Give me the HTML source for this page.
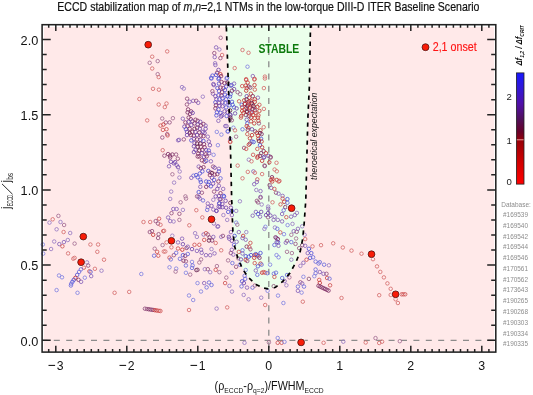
<!DOCTYPE html>
<html><head><meta charset="utf-8"><style>html,body{margin:0;padding:0;background:#fff;}svg{display:block;will-change:transform;}</style></head>
<body><svg width="533" height="395" viewBox="0 0 533 395">
<rect x="43.9" y="26.9" width="450.3" height="324.20000000000005" fill="#ffe9e9"/>
<polygon points="226.3,26.9 228.9,100 230.5,150 231.7,200 232.2,214.6 232.9,231.6 234.6,246.2 237.8,258.3 242.7,269.3 248.7,277.8 256,284.6 263.3,288 269.4,289.1 275.5,287.3 282.8,281.4 290,272.9 296.1,262 300.3,251 302.7,238.9 304.1,224.3 305.1,209.7 305.8,200 307.8,120 309.4,85 310.5,26.9" fill="#ebffeb"/>
<line x1="42.1" y1="340.3" x2="495.8" y2="340.3" stroke="#8c8c8c" stroke-width="1.3" stroke-dasharray="6 6.4" stroke-dashoffset="0.7"/>
<line x1="268.8" y1="24.7" x2="268.8" y2="352.1" stroke="#8c8c8c" stroke-width="1.3" stroke-dasharray="6 6.2"/>
<g fill="#fff" fill-opacity="0.2" stroke-width="0.9" stroke-opacity="0.9"><circle cx="167.2" cy="51.4" r="1.75" stroke="#d46767"/><circle cx="152.2" cy="56.7" r="1.75" stroke="#d46767"/><circle cx="157.7" cy="61.1" r="1.75" stroke="#a0658d"/><circle cx="149.7" cy="62.8" r="1.75" stroke="#a0658d"/><circle cx="152.2" cy="68.5" r="1.75" stroke="#d46767"/><circle cx="157.7" cy="74.2" r="1.75" stroke="#a0658d"/><circle cx="158.7" cy="77.1" r="1.75" stroke="#d46767"/><circle cx="220.7" cy="37.8" r="1.75" stroke="#a0658d"/><circle cx="216.1" cy="47.4" r="1.75" stroke="#825cb6"/><circle cx="219.4" cy="49.5" r="1.75" stroke="#9575c1"/><circle cx="214.3" cy="53.1" r="1.75" stroke="#8f4979"/><circle cx="222.1" cy="55.0" r="1.75" stroke="#d46767"/><circle cx="214.7" cy="57.1" r="1.75" stroke="#825cb6"/><circle cx="220.4" cy="58.1" r="1.75" stroke="#8f4979"/><circle cx="215.1" cy="63.2" r="1.75" stroke="#9575c1"/><circle cx="215.4" cy="65.0" r="1.75" stroke="#825cb6"/><circle cx="218.5" cy="69.9" r="1.75" stroke="#6c40aa"/><circle cx="217.1" cy="72.8" r="1.75" stroke="#7c2a62"/><circle cx="220.4" cy="74.2" r="1.75" stroke="#c42c2c"/><circle cx="212.5" cy="75.6" r="1.75" stroke="#4c4cd4"/><circle cx="216.1" cy="74.9" r="1.75" stroke="#4c4cd4"/><circle cx="211.1" cy="77.8" r="1.75" stroke="#6666da"/><circle cx="219.0" cy="78.1" r="1.75" stroke="#4c4cd4"/><circle cx="221.1" cy="76.1" r="1.75" stroke="#7c2a62"/><circle cx="227.1" cy="77.8" r="1.75" stroke="#6666da"/><circle cx="242.5" cy="50.0" r="1.75" stroke="#d46767"/><circle cx="248.5" cy="52.8" r="1.75" stroke="#d46767"/><circle cx="234.7" cy="68.1" r="1.75" stroke="#d46767"/><circle cx="247.5" cy="66.7" r="1.75" stroke="#7e7ee0"/><circle cx="252.8" cy="76.1" r="1.75" stroke="#825cb6"/><circle cx="246.1" cy="79.2" r="1.75" stroke="#cc4b4b"/><circle cx="254.6" cy="78.9" r="1.75" stroke="#cc4b4b"/><circle cx="264.9" cy="76.6" r="1.75" stroke="#d46767"/><circle cx="153.0" cy="88.8" r="1.75" stroke="#d46767"/><circle cx="158.9" cy="89.7" r="1.75" stroke="#d46767"/><circle cx="139.4" cy="99.0" r="1.75" stroke="#d46767"/><circle cx="158.7" cy="104.5" r="1.75" stroke="#d46767"/><circle cx="166.5" cy="103.5" r="1.75" stroke="#d46767"/><circle cx="164.8" cy="107.1" r="1.75" stroke="#d46767"/><circle cx="147.2" cy="120.4" r="1.75" stroke="#d46767"/><circle cx="162.2" cy="118.5" r="1.75" stroke="#a0658d"/><circle cx="172.9" cy="118.2" r="1.75" stroke="#a0658d"/><circle cx="169.6" cy="122.4" r="1.75" stroke="#8f4979"/><circle cx="165.8" cy="122.5" r="1.75" stroke="#8f4979"/><circle cx="163.4" cy="124.5" r="1.75" stroke="#c42c2c"/><circle cx="160.5" cy="125.6" r="1.75" stroke="#cc4b4b"/><circle cx="166.5" cy="129.2" r="1.75" stroke="#cc4b4b"/><circle cx="162.9" cy="129.9" r="1.75" stroke="#cc4b4b"/><circle cx="167.2" cy="134.2" r="1.75" stroke="#8f4979"/><circle cx="182.0" cy="87.1" r="1.75" stroke="#9575c1"/><circle cx="183.8" cy="88.6" r="1.75" stroke="#9575c1"/><circle cx="187.1" cy="98.7" r="1.75" stroke="#8f4979"/><circle cx="189.6" cy="101.8" r="1.75" stroke="#825cb6"/><circle cx="193.2" cy="100.8" r="1.75" stroke="#825cb6"/><circle cx="196.2" cy="100.8" r="1.75" stroke="#8f4979"/><circle cx="198.2" cy="102.8" r="1.75" stroke="#825cb6"/><circle cx="202.8" cy="96.7" r="1.75" stroke="#9575c1"/><circle cx="186.9" cy="104.5" r="1.75" stroke="#8f4979"/><circle cx="188.1" cy="109.4" r="1.75" stroke="#7c2a62"/><circle cx="191.1" cy="111.4" r="1.75" stroke="#7c2a62"/><circle cx="187.6" cy="112.4" r="1.75" stroke="#7c2a62"/><circle cx="190.1" cy="113.9" r="1.75" stroke="#7c2a62"/><circle cx="192.7" cy="112.9" r="1.75" stroke="#6c40aa"/><circle cx="211.4" cy="78.5" r="1.75" stroke="#4c4cd4"/><circle cx="218.5" cy="79.0" r="1.75" stroke="#4c4cd4"/><circle cx="226.6" cy="78.5" r="1.75" stroke="#6666da"/><circle cx="213.9" cy="85.1" r="1.75" stroke="#825cb6"/><circle cx="219.0" cy="83.6" r="1.75" stroke="#4c4cd4"/><circle cx="221.5" cy="82.0" r="1.75" stroke="#7c2a62"/><circle cx="224.5" cy="83.1" r="1.75" stroke="#7c2a62"/><circle cx="227.6" cy="82.6" r="1.75" stroke="#5c1242"/><circle cx="217.4" cy="88.1" r="1.75" stroke="#4c4cd4"/><circle cx="220.5" cy="87.6" r="1.75" stroke="#7c2a62"/><circle cx="223.5" cy="88.1" r="1.75" stroke="#7c2a62"/><circle cx="226.1" cy="86.6" r="1.75" stroke="#4c4cd4"/><circle cx="230.6" cy="85.6" r="1.75" stroke="#6c40aa"/><circle cx="219.0" cy="91.2" r="1.75" stroke="#4c4cd4"/><circle cx="222.0" cy="92.2" r="1.75" stroke="#7c2a62"/><circle cx="225.0" cy="90.1" r="1.75" stroke="#4c4cd4"/><circle cx="212.9" cy="93.7" r="1.75" stroke="#825cb6"/><circle cx="215.4" cy="96.2" r="1.75" stroke="#6c40aa"/><circle cx="218.5" cy="95.2" r="1.75" stroke="#4c4cd4"/><circle cx="221.5" cy="95.7" r="1.75" stroke="#7c2a62"/><circle cx="225.0" cy="94.7" r="1.75" stroke="#4c4cd4"/><circle cx="227.6" cy="96.2" r="1.75" stroke="#4c4cd4"/><circle cx="230.6" cy="94.2" r="1.75" stroke="#4c4cd4"/><circle cx="216.4" cy="99.3" r="1.75" stroke="#6c40aa"/><circle cx="219.5" cy="99.3" r="1.75" stroke="#4c4cd4"/><circle cx="222.5" cy="98.2" r="1.75" stroke="#4c4cd4"/><circle cx="226.1" cy="99.3" r="1.75" stroke="#4c4cd4"/><circle cx="215.4" cy="102.3" r="1.75" stroke="#4c4cd4"/><circle cx="219.0" cy="102.8" r="1.75" stroke="#6c40aa"/><circle cx="222.5" cy="102.3" r="1.75" stroke="#6c40aa"/><circle cx="225.5" cy="102.8" r="1.75" stroke="#4c4cd4"/><circle cx="228.6" cy="102.3" r="1.75" stroke="#6c40aa"/><circle cx="215.9" cy="105.3" r="1.75" stroke="#7c2a62"/><circle cx="219.5" cy="105.8" r="1.75" stroke="#6c40aa"/><circle cx="222.5" cy="106.3" r="1.75" stroke="#6c40aa"/><circle cx="226.1" cy="107.4" r="1.75" stroke="#4c4cd4"/><circle cx="229.6" cy="105.3" r="1.75" stroke="#4c4cd4"/><circle cx="215.4" cy="108.4" r="1.75" stroke="#7c2a62"/><circle cx="218.5" cy="109.4" r="1.75" stroke="#4c4cd4"/><circle cx="216.9" cy="112.4" r="1.75" stroke="#4c4cd4"/><circle cx="220.5" cy="112.9" r="1.75" stroke="#4c4cd4"/><circle cx="224.5" cy="111.4" r="1.75" stroke="#6c40aa"/><circle cx="227.6" cy="112.4" r="1.75" stroke="#6c40aa"/><circle cx="230.1" cy="110.4" r="1.75" stroke="#5c1242"/><circle cx="216.4" cy="115.4" r="1.75" stroke="#4c4cd4"/><circle cx="222.0" cy="115.4" r="1.75" stroke="#6c40aa"/><circle cx="226.6" cy="116.0" r="1.75" stroke="#4c4cd4"/><circle cx="230.6" cy="115.4" r="1.75" stroke="#6c40aa"/><circle cx="212.4" cy="91.2" r="1.75" stroke="#8f4979"/><circle cx="213.4" cy="84.1" r="1.75" stroke="#6c40aa"/><circle cx="246.2" cy="80.0" r="1.75" stroke="#cc4b4b"/><circle cx="254.3" cy="79.5" r="1.75" stroke="#cc4b4b"/><circle cx="264.9" cy="78.5" r="1.75" stroke="#d46767"/><circle cx="247.7" cy="82.6" r="1.75" stroke="#c42c2c"/><circle cx="242.2" cy="86.1" r="1.75" stroke="#cc4b4b"/><circle cx="245.7" cy="85.6" r="1.75" stroke="#c42c2c"/><circle cx="248.7" cy="86.6" r="1.75" stroke="#7c2a62"/><circle cx="250.3" cy="87.6" r="1.75" stroke="#7c2a62"/><circle cx="254.5" cy="85.1" r="1.75" stroke="#c42c2c"/><circle cx="246.7" cy="88.1" r="1.75" stroke="#c42c2c"/><circle cx="254.8" cy="89.6" r="1.75" stroke="#cc4b4b"/><circle cx="263.9" cy="88.1" r="1.75" stroke="#d46767"/><circle cx="246.2" cy="90.7" r="1.75" stroke="#c42c2c"/><circle cx="234.1" cy="83.6" r="1.75" stroke="#825cb6"/><circle cx="231.5" cy="85.1" r="1.75" stroke="#4c4cd4"/><circle cx="234.1" cy="89.1" r="1.75" stroke="#6c40aa"/><circle cx="232.0" cy="90.7" r="1.75" stroke="#7c2a62"/><circle cx="237.6" cy="92.2" r="1.75" stroke="#8f4979"/><circle cx="240.1" cy="94.2" r="1.75" stroke="#a0658d"/><circle cx="230.0" cy="96.7" r="1.75" stroke="#4c4cd4"/><circle cx="246.7" cy="96.2" r="1.75" stroke="#6c40aa"/><circle cx="250.8" cy="93.7" r="1.75" stroke="#c42c2c"/><circle cx="252.8" cy="96.2" r="1.75" stroke="#7c2a62"/><circle cx="257.9" cy="97.7" r="1.75" stroke="#825cb6"/><circle cx="249.3" cy="97.7" r="1.75" stroke="#c42c2c"/><circle cx="254.8" cy="99.3" r="1.75" stroke="#c42c2c"/><circle cx="239.1" cy="101.3" r="1.75" stroke="#cc4b4b"/><circle cx="244.2" cy="100.3" r="1.75" stroke="#c42c2c"/><circle cx="247.7" cy="102.3" r="1.75" stroke="#7c2a62"/><circle cx="250.8" cy="100.8" r="1.75" stroke="#c42c2c"/><circle cx="254.8" cy="101.8" r="1.75" stroke="#c42c2c"/><circle cx="232.0" cy="101.8" r="1.75" stroke="#4c4cd4"/><circle cx="232.6" cy="104.8" r="1.75" stroke="#4c4cd4"/><circle cx="241.7" cy="104.8" r="1.75" stroke="#4c4cd4"/><circle cx="244.7" cy="103.8" r="1.75" stroke="#7c2a62"/><circle cx="248.2" cy="105.3" r="1.75" stroke="#7c2a62"/><circle cx="252.3" cy="104.3" r="1.75" stroke="#c42c2c"/><circle cx="259.4" cy="104.8" r="1.75" stroke="#cc4b4b"/><circle cx="257.4" cy="106.8" r="1.75" stroke="#c42c2c"/><circle cx="234.1" cy="107.4" r="1.75" stroke="#4c4cd4"/><circle cx="236.6" cy="108.4" r="1.75" stroke="#6c40aa"/><circle cx="242.2" cy="107.4" r="1.75" stroke="#c42c2c"/><circle cx="246.2" cy="107.9" r="1.75" stroke="#7c2a62"/><circle cx="249.8" cy="108.4" r="1.75" stroke="#c42c2c"/><circle cx="254.3" cy="107.4" r="1.75" stroke="#c42c2c"/><circle cx="263.9" cy="108.9" r="1.75" stroke="#d46767"/><circle cx="242.2" cy="110.9" r="1.75" stroke="#c42c2c"/><circle cx="246.7" cy="110.9" r="1.75" stroke="#7c2a62"/><circle cx="250.8" cy="112.4" r="1.75" stroke="#4c4cd4"/><circle cx="254.8" cy="110.4" r="1.75" stroke="#7c2a62"/><circle cx="259.4" cy="110.9" r="1.75" stroke="#c42c2c"/><circle cx="235.1" cy="113.4" r="1.75" stroke="#6c40aa"/><circle cx="241.2" cy="116.0" r="1.75" stroke="#c42c2c"/><circle cx="245.7" cy="114.9" r="1.75" stroke="#7c2a62"/><circle cx="249.3" cy="116.0" r="1.75" stroke="#7c2a62"/><circle cx="253.3" cy="114.9" r="1.75" stroke="#c42c2c"/><circle cx="258.4" cy="115.4" r="1.75" stroke="#c42c2c"/><circle cx="230.0" cy="114.4" r="1.75" stroke="#6c40aa"/><circle cx="162.3" cy="137.5" r="1.75" stroke="#8f4979"/><circle cx="167.6" cy="135.4" r="1.75" stroke="#cc4b4b"/><circle cx="178.1" cy="140.3" r="1.75" stroke="#825cb6"/><circle cx="162.7" cy="150.2" r="1.75" stroke="#d46767"/><circle cx="164.4" cy="155.7" r="1.75" stroke="#8f4979"/><circle cx="168.1" cy="154.1" r="1.75" stroke="#7c2a62"/><circle cx="170.0" cy="155.7" r="1.75" stroke="#7c2a62"/><circle cx="172.4" cy="154.5" r="1.75" stroke="#7c2a62"/><circle cx="176.1" cy="154.5" r="1.75" stroke="#8f4979"/><circle cx="170.2" cy="157.5" r="1.75" stroke="#7c2a62"/><circle cx="177.8" cy="158.7" r="1.75" stroke="#8f4979"/><circle cx="170.9" cy="161.8" r="1.75" stroke="#6c40aa"/><circle cx="173.9" cy="163.3" r="1.75" stroke="#6c40aa"/><circle cx="175.1" cy="162.1" r="1.75" stroke="#6c40aa"/><circle cx="176.9" cy="165.4" r="1.75" stroke="#825cb6"/><circle cx="169.0" cy="166.3" r="1.75" stroke="#825cb6"/><circle cx="178.1" cy="167.2" r="1.75" stroke="#6c40aa"/><circle cx="179.7" cy="171.5" r="1.75" stroke="#9575c1"/><circle cx="172.4" cy="174.3" r="1.75" stroke="#a0658d"/><circle cx="179.4" cy="177.6" r="1.75" stroke="#9575c1"/><circle cx="182.8" cy="118.7" r="1.75" stroke="#825cb6"/><circle cx="188.6" cy="117.6" r="1.75" stroke="#7c2a62"/><circle cx="190.8" cy="119.2" r="1.75" stroke="#7c2a62"/><circle cx="185.4" cy="122.4" r="1.75" stroke="#7c2a62"/><circle cx="188.6" cy="121.8" r="1.75" stroke="#6c40aa"/><circle cx="192.3" cy="121.3" r="1.75" stroke="#6c40aa"/><circle cx="195.5" cy="119.7" r="1.75" stroke="#7c2a62"/><circle cx="197.7" cy="120.8" r="1.75" stroke="#7c2a62"/><circle cx="200.3" cy="121.8" r="1.75" stroke="#6c40aa"/><circle cx="184.4" cy="126.6" r="1.75" stroke="#6c40aa"/><circle cx="187.6" cy="126.1" r="1.75" stroke="#7c2a62"/><circle cx="191.3" cy="125.0" r="1.75" stroke="#6c40aa"/><circle cx="194.5" cy="123.4" r="1.75" stroke="#7c2a62"/><circle cx="197.7" cy="124.5" r="1.75" stroke="#6c40aa"/><circle cx="200.8" cy="125.6" r="1.75" stroke="#7c2a62"/><circle cx="203.5" cy="124.0" r="1.75" stroke="#7c2a62"/><circle cx="205.6" cy="125.6" r="1.75" stroke="#825cb6"/><circle cx="186.0" cy="129.3" r="1.75" stroke="#4c4cd4"/><circle cx="189.7" cy="128.8" r="1.75" stroke="#7c2a62"/><circle cx="194.5" cy="128.8" r="1.75" stroke="#5c1242"/><circle cx="197.1" cy="127.7" r="1.75" stroke="#7c2a62"/><circle cx="199.8" cy="128.8" r="1.75" stroke="#6c40aa"/><circle cx="205.6" cy="128.8" r="1.75" stroke="#6c40aa"/><circle cx="187.0" cy="131.9" r="1.75" stroke="#6c40aa"/><circle cx="189.7" cy="133.0" r="1.75" stroke="#5c1242"/><circle cx="192.3" cy="131.9" r="1.75" stroke="#7c2a62"/><circle cx="195.5" cy="131.9" r="1.75" stroke="#6c40aa"/><circle cx="199.3" cy="132.5" r="1.75" stroke="#7c2a62"/><circle cx="203.0" cy="131.9" r="1.75" stroke="#6c40aa"/><circle cx="204.6" cy="133.0" r="1.75" stroke="#6c40aa"/><circle cx="187.0" cy="135.1" r="1.75" stroke="#6c40aa"/><circle cx="190.8" cy="135.1" r="1.75" stroke="#7c2a62"/><circle cx="193.9" cy="135.7" r="1.75" stroke="#7c2a62"/><circle cx="197.1" cy="135.1" r="1.75" stroke="#6c40aa"/><circle cx="200.8" cy="135.7" r="1.75" stroke="#7c2a62"/><circle cx="203.5" cy="136.2" r="1.75" stroke="#7c2a62"/><circle cx="207.8" cy="136.7" r="1.75" stroke="#825cb6"/><circle cx="179.1" cy="139.9" r="1.75" stroke="#825cb6"/><circle cx="183.8" cy="139.4" r="1.75" stroke="#8f4979"/><circle cx="191.3" cy="140.4" r="1.75" stroke="#4c4cd4"/><circle cx="193.9" cy="138.8" r="1.75" stroke="#6c40aa"/><circle cx="197.1" cy="139.4" r="1.75" stroke="#7c2a62"/><circle cx="200.3" cy="139.9" r="1.75" stroke="#6c40aa"/><circle cx="203.5" cy="141.0" r="1.75" stroke="#4c4cd4"/><circle cx="208.8" cy="141.5" r="1.75" stroke="#6c40aa"/><circle cx="194.5" cy="143.1" r="1.75" stroke="#6c40aa"/><circle cx="197.1" cy="143.6" r="1.75" stroke="#5c1242"/><circle cx="200.3" cy="143.6" r="1.75" stroke="#5c1242"/><circle cx="204.0" cy="144.2" r="1.75" stroke="#7c2a62"/><circle cx="209.9" cy="145.2" r="1.75" stroke="#6c40aa"/><circle cx="193.9" cy="146.3" r="1.75" stroke="#6c40aa"/><circle cx="197.7" cy="146.8" r="1.75" stroke="#5c1242"/><circle cx="200.8" cy="146.8" r="1.75" stroke="#7c2a62"/><circle cx="204.6" cy="147.3" r="1.75" stroke="#7c2a62"/><circle cx="195.5" cy="150.0" r="1.75" stroke="#6c40aa"/><circle cx="199.3" cy="150.5" r="1.75" stroke="#5c1242"/><circle cx="202.4" cy="150.0" r="1.75" stroke="#7c2a62"/><circle cx="206.2" cy="150.0" r="1.75" stroke="#6c40aa"/><circle cx="208.8" cy="150.5" r="1.75" stroke="#4c4cd4"/><circle cx="193.9" cy="152.1" r="1.75" stroke="#6c40aa"/><circle cx="198.2" cy="153.7" r="1.75" stroke="#7c2a62"/><circle cx="201.9" cy="153.2" r="1.75" stroke="#6c40aa"/><circle cx="205.6" cy="154.3" r="1.75" stroke="#7c2a62"/><circle cx="209.3" cy="153.2" r="1.75" stroke="#6c40aa"/><circle cx="213.6" cy="154.8" r="1.75" stroke="#7e7ee0"/><circle cx="199.3" cy="156.4" r="1.75" stroke="#7c2a62"/><circle cx="204.0" cy="156.9" r="1.75" stroke="#6c40aa"/><circle cx="206.7" cy="156.4" r="1.75" stroke="#7c2a62"/><circle cx="218.4" cy="120.8" r="1.75" stroke="#825cb6"/><circle cx="221.0" cy="116.5" r="1.75" stroke="#6c40aa"/><circle cx="225.3" cy="126.1" r="1.75" stroke="#825cb6"/><circle cx="216.8" cy="131.9" r="1.75" stroke="#7e7ee0"/><circle cx="221.4" cy="134.6" r="1.75" stroke="#7e7ee0"/><circle cx="228.0" cy="131.4" r="1.75" stroke="#6666da"/><circle cx="217.9" cy="145.2" r="1.75" stroke="#7e7ee0"/><circle cx="230.1" cy="141.5" r="1.75" stroke="#cc4b4b"/><circle cx="230.1" cy="119.2" r="1.75" stroke="#5c1242"/><circle cx="230.3" cy="117.6" r="1.75" stroke="#5c1242"/><circle cx="231.8" cy="120.3" r="1.75" stroke="#8f4979"/><circle cx="240.9" cy="117.6" r="1.75" stroke="#cc4b4b"/><circle cx="246.7" cy="119.7" r="1.75" stroke="#6c40aa"/><circle cx="251.0" cy="117.6" r="1.75" stroke="#c42c2c"/><circle cx="254.7" cy="118.1" r="1.75" stroke="#c42c2c"/><circle cx="257.9" cy="117.6" r="1.75" stroke="#c42c2c"/><circle cx="251.0" cy="121.3" r="1.75" stroke="#c42c2c"/><circle cx="254.2" cy="123.4" r="1.75" stroke="#c42c2c"/><circle cx="258.9" cy="123.4" r="1.75" stroke="#8f4979"/><circle cx="258.4" cy="120.8" r="1.75" stroke="#c42c2c"/><circle cx="247.3" cy="123.4" r="1.75" stroke="#4c4cd4"/><circle cx="246.7" cy="126.1" r="1.75" stroke="#c42c2c"/><circle cx="248.3" cy="127.7" r="1.75" stroke="#c42c2c"/><circle cx="226.5" cy="126.1" r="1.75" stroke="#825cb6"/><circle cx="227.6" cy="131.4" r="1.75" stroke="#6666da"/><circle cx="233.4" cy="127.7" r="1.75" stroke="#7e7ee0"/><circle cx="235.0" cy="130.3" r="1.75" stroke="#d46767"/><circle cx="242.5" cy="129.3" r="1.75" stroke="#6666da"/><circle cx="247.8" cy="129.8" r="1.75" stroke="#7c2a62"/><circle cx="252.0" cy="129.3" r="1.75" stroke="#6c40aa"/><circle cx="255.2" cy="131.4" r="1.75" stroke="#7c2a62"/><circle cx="263.7" cy="127.2" r="1.75" stroke="#d46767"/><circle cx="260.5" cy="130.3" r="1.75" stroke="#c42c2c"/><circle cx="256.8" cy="133.0" r="1.75" stroke="#c42c2c"/><circle cx="260.0" cy="133.0" r="1.75" stroke="#5c1242"/><circle cx="247.3" cy="134.1" r="1.75" stroke="#cc4b4b"/><circle cx="252.0" cy="135.1" r="1.75" stroke="#c42c2c"/><circle cx="261.6" cy="134.1" r="1.75" stroke="#7c2a62"/><circle cx="257.9" cy="135.7" r="1.75" stroke="#c42c2c"/><circle cx="236.1" cy="136.7" r="1.75" stroke="#a0658d"/><circle cx="230.3" cy="138.8" r="1.75" stroke="#825cb6"/><circle cx="249.9" cy="138.3" r="1.75" stroke="#c42c2c"/><circle cx="258.4" cy="138.8" r="1.75" stroke="#c42c2c"/><circle cx="261.1" cy="138.8" r="1.75" stroke="#4c4cd4"/><circle cx="230.3" cy="142.0" r="1.75" stroke="#cc4b4b"/><circle cx="252.0" cy="141.5" r="1.75" stroke="#4c4cd4"/><circle cx="253.6" cy="142.0" r="1.75" stroke="#4c4cd4"/><circle cx="258.9" cy="141.0" r="1.75" stroke="#5c1242"/><circle cx="261.6" cy="141.5" r="1.75" stroke="#c42c2c"/><circle cx="249.9" cy="143.6" r="1.75" stroke="#7c2a62"/><circle cx="248.8" cy="144.7" r="1.75" stroke="#c42c2c"/><circle cx="260.0" cy="145.2" r="1.75" stroke="#4c4cd4"/><circle cx="262.1" cy="147.3" r="1.75" stroke="#c42c2c"/><circle cx="244.1" cy="147.9" r="1.75" stroke="#8f4979"/><circle cx="246.2" cy="148.9" r="1.75" stroke="#cc4b4b"/><circle cx="257.3" cy="148.9" r="1.75" stroke="#cc4b4b"/><circle cx="263.7" cy="151.1" r="1.75" stroke="#7c2a62"/><circle cx="261.1" cy="153.2" r="1.75" stroke="#7c2a62"/><circle cx="265.9" cy="153.2" r="1.75" stroke="#c42c2c"/><circle cx="253.1" cy="154.8" r="1.75" stroke="#cc4b4b"/><circle cx="257.9" cy="156.4" r="1.75" stroke="#c42c2c"/><circle cx="260.0" cy="155.9" r="1.75" stroke="#7c2a62"/><circle cx="264.3" cy="156.9" r="1.75" stroke="#6c40aa"/><circle cx="268.5" cy="155.9" r="1.75" stroke="#6c40aa"/><circle cx="270.6" cy="156.9" r="1.75" stroke="#7c2a62"/><circle cx="269.3" cy="162.3" r="1.75" stroke="#c42c2c"/><circle cx="264.5" cy="165.5" r="1.75" stroke="#8f4979"/><circle cx="276.5" cy="162.8" r="1.75" stroke="#d46767"/><circle cx="274.6" cy="169.5" r="1.75" stroke="#d46767"/><circle cx="276.8" cy="171.3" r="1.75" stroke="#d46767"/><circle cx="272.0" cy="177.2" r="1.75" stroke="#7c2a62"/><circle cx="272.5" cy="179.1" r="1.75" stroke="#c42c2c"/><circle cx="276.8" cy="179.9" r="1.75" stroke="#c42c2c"/><circle cx="279.4" cy="180.9" r="1.75" stroke="#cc4b4b"/><circle cx="270.9" cy="179.9" r="1.75" stroke="#c42c2c"/><circle cx="237.7" cy="165.6" r="1.75" stroke="#d46767"/><circle cx="248.8" cy="159.7" r="1.75" stroke="#9575c1"/><circle cx="251.5" cy="161.3" r="1.75" stroke="#d46767"/><circle cx="257.3" cy="157.6" r="1.75" stroke="#c42c2c"/><circle cx="262.1" cy="160.8" r="1.75" stroke="#c42c2c"/><circle cx="263.7" cy="157.6" r="1.75" stroke="#6c40aa"/><circle cx="264.8" cy="166.1" r="1.75" stroke="#8f4979"/><circle cx="270.6" cy="157.6" r="1.75" stroke="#8f4979"/><circle cx="247.8" cy="171.9" r="1.75" stroke="#d46767"/><circle cx="253.4" cy="171.4" r="1.75" stroke="#825cb6"/><circle cx="254.9" cy="172.8" r="1.75" stroke="#d46767"/><circle cx="262.1" cy="174.1" r="1.75" stroke="#d46767"/><circle cx="242.5" cy="178.3" r="1.75" stroke="#d46767"/><circle cx="257.3" cy="179.4" r="1.75" stroke="#cc4b4b"/><circle cx="256.8" cy="182.0" r="1.75" stroke="#825cb6"/><circle cx="254.2" cy="184.2" r="1.75" stroke="#825cb6"/><circle cx="272.2" cy="181.5" r="1.75" stroke="#c42c2c"/><circle cx="278.6" cy="181.5" r="1.75" stroke="#cc4b4b"/><circle cx="269.6" cy="185.2" r="1.75" stroke="#8f4979"/><circle cx="271.2" cy="187.9" r="1.75" stroke="#825cb6"/><circle cx="274.4" cy="188.9" r="1.75" stroke="#cc4b4b"/><circle cx="276.0" cy="192.7" r="1.75" stroke="#8f4979"/><circle cx="278.6" cy="193.7" r="1.75" stroke="#825cb6"/><circle cx="256.3" cy="190.0" r="1.75" stroke="#9575c1"/><circle cx="260.5" cy="191.1" r="1.75" stroke="#825cb6"/><circle cx="260.5" cy="196.9" r="1.75" stroke="#825cb6"/><circle cx="197.7" cy="156.5" r="1.75" stroke="#7c2a62"/><circle cx="201.9" cy="160.3" r="1.75" stroke="#7c2a62"/><circle cx="204.6" cy="161.8" r="1.75" stroke="#7c2a62"/><circle cx="206.2" cy="160.8" r="1.75" stroke="#4c4cd4"/><circle cx="210.9" cy="161.3" r="1.75" stroke="#825cb6"/><circle cx="198.7" cy="166.6" r="1.75" stroke="#825cb6"/><circle cx="200.8" cy="168.2" r="1.75" stroke="#7c2a62"/><circle cx="203.5" cy="167.2" r="1.75" stroke="#7c2a62"/><circle cx="202.4" cy="171.4" r="1.75" stroke="#4c4cd4"/><circle cx="199.8" cy="173.5" r="1.75" stroke="#4c4cd4"/><circle cx="196.1" cy="175.1" r="1.75" stroke="#4c4cd4"/><circle cx="193.4" cy="175.7" r="1.75" stroke="#6666da"/><circle cx="191.3" cy="177.8" r="1.75" stroke="#825cb6"/><circle cx="197.7" cy="177.3" r="1.75" stroke="#4c4cd4"/><circle cx="200.3" cy="179.9" r="1.75" stroke="#6666da"/><circle cx="200.8" cy="182.0" r="1.75" stroke="#4c4cd4"/><circle cx="200.3" cy="186.8" r="1.75" stroke="#825cb6"/><circle cx="198.7" cy="192.1" r="1.75" stroke="#4c4cd4"/><circle cx="201.9" cy="192.7" r="1.75" stroke="#8f4979"/><circle cx="198.7" cy="196.9" r="1.75" stroke="#6c40aa"/><circle cx="185.4" cy="196.4" r="1.75" stroke="#a0658d"/><circle cx="208.3" cy="170.9" r="1.75" stroke="#4c4cd4"/><circle cx="210.4" cy="172.5" r="1.75" stroke="#7c2a62"/><circle cx="213.1" cy="166.6" r="1.75" stroke="#8f4979"/><circle cx="214.7" cy="167.7" r="1.75" stroke="#6c40aa"/><circle cx="212.0" cy="173.0" r="1.75" stroke="#5c1242"/><circle cx="214.7" cy="174.6" r="1.75" stroke="#7c2a62"/><circle cx="217.3" cy="174.1" r="1.75" stroke="#7c2a62"/><circle cx="209.9" cy="175.1" r="1.75" stroke="#7c2a62"/><circle cx="218.9" cy="168.8" r="1.75" stroke="#825cb6"/><circle cx="218.9" cy="171.4" r="1.75" stroke="#4c4cd4"/><circle cx="212.0" cy="177.8" r="1.75" stroke="#6c40aa"/><circle cx="214.1" cy="179.9" r="1.75" stroke="#4c4cd4"/><circle cx="220.5" cy="178.3" r="1.75" stroke="#6666da"/><circle cx="206.2" cy="181.5" r="1.75" stroke="#4c4cd4"/><circle cx="208.8" cy="182.0" r="1.75" stroke="#4c4cd4"/><circle cx="208.3" cy="184.7" r="1.75" stroke="#4c4cd4"/><circle cx="210.9" cy="186.3" r="1.75" stroke="#4c4cd4"/><circle cx="213.1" cy="183.6" r="1.75" stroke="#6c40aa"/><circle cx="206.2" cy="186.8" r="1.75" stroke="#7c2a62"/><circle cx="218.4" cy="181.5" r="1.75" stroke="#7c2a62"/><circle cx="218.9" cy="185.8" r="1.75" stroke="#825cb6"/><circle cx="217.3" cy="188.9" r="1.75" stroke="#6c40aa"/><circle cx="223.2" cy="188.9" r="1.75" stroke="#825cb6"/><circle cx="214.1" cy="191.6" r="1.75" stroke="#8f4979"/><circle cx="220.5" cy="193.2" r="1.75" stroke="#7c2a62"/><circle cx="218.9" cy="195.9" r="1.75" stroke="#6c40aa"/><circle cx="223.7" cy="195.9" r="1.75" stroke="#4c4cd4"/><circle cx="215.7" cy="196.4" r="1.75" stroke="#6c40aa"/><circle cx="197.1" cy="196.4" r="1.75" stroke="#8f4979"/><circle cx="174.1" cy="182.6" r="1.75" stroke="#9575c1"/><circle cx="171.2" cy="191.6" r="1.75" stroke="#9575c1"/><circle cx="170.2" cy="198.9" r="1.75" stroke="#9575c1"/><circle cx="180.6" cy="202.3" r="1.75" stroke="#a0658d"/><circle cx="173.3" cy="209.0" r="1.75" stroke="#825cb6"/><circle cx="176.6" cy="209.0" r="1.75" stroke="#825cb6"/><circle cx="171.5" cy="213.2" r="1.75" stroke="#8f4979"/><circle cx="179.4" cy="213.8" r="1.75" stroke="#8f4979"/><circle cx="168.1" cy="217.5" r="1.75" stroke="#825cb6"/><circle cx="170.2" cy="221.1" r="1.75" stroke="#825cb6"/><circle cx="173.6" cy="221.5" r="1.75" stroke="#9575c1"/><circle cx="179.4" cy="219.9" r="1.75" stroke="#a0658d"/><circle cx="159.1" cy="218.7" r="1.75" stroke="#cc4b4b"/><circle cx="155.7" cy="221.1" r="1.75" stroke="#8f4979"/><circle cx="158.1" cy="223.6" r="1.75" stroke="#8f4979"/><circle cx="160.5" cy="224.8" r="1.75" stroke="#d46767"/><circle cx="150.2" cy="222.0" r="1.75" stroke="#d46767"/><circle cx="143.5" cy="222.0" r="1.75" stroke="#d46767"/><circle cx="58.4" cy="215.9" r="1.75" stroke="#a0658d"/><circle cx="52.7" cy="219.3" r="1.75" stroke="#d46767"/><circle cx="49.5" cy="222.6" r="1.75" stroke="#9575c1"/><circle cx="60.5" cy="222.0" r="1.75" stroke="#9575c1"/><circle cx="64.1" cy="225.0" r="1.75" stroke="#a0658d"/><circle cx="56.6" cy="229.3" r="1.75" stroke="#9575c1"/><circle cx="63.6" cy="232.0" r="1.75" stroke="#d46767"/><circle cx="70.2" cy="233.0" r="1.75" stroke="#9575c1"/><circle cx="54.2" cy="241.5" r="1.75" stroke="#9575c1"/><circle cx="59.3" cy="244.1" r="1.75" stroke="#825cb6"/><circle cx="63.9" cy="242.1" r="1.75" stroke="#825cb6"/><circle cx="67.8" cy="240.0" r="1.75" stroke="#9575c1"/><circle cx="74.6" cy="243.6" r="1.75" stroke="#a0658d"/><circle cx="62.4" cy="246.3" r="1.75" stroke="#cc4b4b"/><circle cx="42.8" cy="244.5" r="1.75" stroke="#7e7ee0"/><circle cx="51.1" cy="249.0" r="1.75" stroke="#9575c1"/><circle cx="90.4" cy="244.5" r="1.75" stroke="#d46767"/><circle cx="98.1" cy="244.5" r="1.75" stroke="#d46767"/><circle cx="97.3" cy="251.8" r="1.75" stroke="#d46767"/><circle cx="68.1" cy="253.4" r="1.75" stroke="#d46767"/><circle cx="43.2" cy="253.6" r="1.75" stroke="#7e7ee0"/><circle cx="73.3" cy="258.7" r="1.75" stroke="#d46767"/><circle cx="74.6" cy="257.9" r="1.75" stroke="#d46767"/><circle cx="87.0" cy="262.4" r="1.75" stroke="#9575c1"/><circle cx="88.2" cy="265.6" r="1.75" stroke="#8f4979"/><circle cx="83.9" cy="267.6" r="1.75" stroke="#cc4b4b"/><circle cx="94.9" cy="268.8" r="1.75" stroke="#d46767"/><circle cx="104.0" cy="259.7" r="1.75" stroke="#d46767"/><circle cx="101.5" cy="270.7" r="1.75" stroke="#9575c1"/><circle cx="80.9" cy="269.4" r="1.75" stroke="#6666da"/><circle cx="79.1" cy="271.9" r="1.75" stroke="#6666da"/><circle cx="89.4" cy="271.3" r="1.75" stroke="#cc4b4b"/><circle cx="90.6" cy="271.9" r="1.75" stroke="#6666da"/><circle cx="91.2" cy="276.1" r="1.75" stroke="#825cb6"/><circle cx="77.2" cy="274.9" r="1.75" stroke="#4c4cd4"/><circle cx="75.4" cy="277.9" r="1.75" stroke="#c42c2c"/><circle cx="78.5" cy="279.8" r="1.75" stroke="#7c2a62"/><circle cx="81.1" cy="281.8" r="1.75" stroke="#825cb6"/><circle cx="84.8" cy="277.7" r="1.75" stroke="#7e7ee0"/><circle cx="73.8" cy="279.8" r="1.75" stroke="#4c4cd4"/><circle cx="72.4" cy="281.8" r="1.75" stroke="#4c4cd4"/><circle cx="71.2" cy="283.8" r="1.75" stroke="#6666da"/><circle cx="70.9" cy="285.5" r="1.75" stroke="#6666da"/><circle cx="59.0" cy="275.5" r="1.75" stroke="#7e7ee0"/><circle cx="62.0" cy="277.3" r="1.75" stroke="#7e7ee0"/><circle cx="56.6" cy="290.1" r="1.75" stroke="#7e7ee0"/><circle cx="77.5" cy="292.8" r="1.75" stroke="#7e7ee0"/><circle cx="149.8" cy="232.0" r="1.75" stroke="#8f4979"/><circle cx="152.0" cy="231.1" r="1.75" stroke="#8f4979"/><circle cx="153.2" cy="234.8" r="1.75" stroke="#c42c2c"/><circle cx="158.6" cy="234.2" r="1.75" stroke="#8f4979"/><circle cx="158.1" cy="238.0" r="1.75" stroke="#8f4979"/><circle cx="163.2" cy="231.1" r="1.75" stroke="#cc4b4b"/><circle cx="154.7" cy="248.7" r="1.75" stroke="#a0658d"/><circle cx="162.6" cy="245.1" r="1.75" stroke="#a0658d"/><circle cx="157.1" cy="251.8" r="1.75" stroke="#cc4b4b"/><circle cx="186.0" cy="198.6" r="1.75" stroke="#a0658d"/><circle cx="182.9" cy="209.9" r="1.75" stroke="#9575c1"/><circle cx="164.1" cy="230.8" r="1.75" stroke="#d46767"/><circle cx="172.3" cy="235.7" r="1.75" stroke="#9575c1"/><circle cx="182.1" cy="238.7" r="1.75" stroke="#825cb6"/><circle cx="178.0" cy="242.4" r="1.75" stroke="#825cb6"/><circle cx="182.9" cy="244.2" r="1.75" stroke="#6c40aa"/><circle cx="189.3" cy="225.3" r="1.75" stroke="#d46767"/><circle cx="196.3" cy="210.2" r="1.75" stroke="#d46767"/><circle cx="202.3" cy="217.4" r="1.75" stroke="#d46767"/><circle cx="203.0" cy="200.4" r="1.75" stroke="#6666da"/><circle cx="199.9" cy="198.6" r="1.75" stroke="#825cb6"/><circle cx="207.8" cy="203.5" r="1.75" stroke="#825cb6"/><circle cx="213.3" cy="199.8" r="1.75" stroke="#9575c1"/><circle cx="207.8" cy="207.1" r="1.75" stroke="#825cb6"/><circle cx="211.5" cy="205.9" r="1.75" stroke="#6c40aa"/><circle cx="213.3" cy="209.5" r="1.75" stroke="#825cb6"/><circle cx="207.2" cy="209.9" r="1.75" stroke="#6666da"/><circle cx="216.3" cy="210.8" r="1.75" stroke="#6c40aa"/><circle cx="219.4" cy="203.5" r="1.75" stroke="#6c40aa"/><circle cx="220.0" cy="207.1" r="1.75" stroke="#6c40aa"/><circle cx="220.6" cy="199.2" r="1.75" stroke="#7c2a62"/><circle cx="213.9" cy="223.5" r="1.75" stroke="#825cb6"/><circle cx="217.5" cy="226.6" r="1.75" stroke="#825cb6"/><circle cx="195.1" cy="233.2" r="1.75" stroke="#9575c1"/><circle cx="196.9" cy="236.9" r="1.75" stroke="#9575c1"/><circle cx="203.6" cy="234.5" r="1.75" stroke="#825cb6"/><circle cx="206.0" cy="233.2" r="1.75" stroke="#cc4b4b"/><circle cx="207.8" cy="234.5" r="1.75" stroke="#8f4979"/><circle cx="209.6" cy="237.5" r="1.75" stroke="#7c2a62"/><circle cx="213.3" cy="236.9" r="1.75" stroke="#825cb6"/><circle cx="204.2" cy="239.9" r="1.75" stroke="#cc4b4b"/><circle cx="209.0" cy="240.5" r="1.75" stroke="#5c1242"/><circle cx="212.1" cy="240.5" r="1.75" stroke="#7c2a62"/><circle cx="215.7" cy="243.0" r="1.75" stroke="#d46767"/><circle cx="221.2" cy="236.9" r="1.75" stroke="#9575c1"/><circle cx="194.5" cy="244.8" r="1.75" stroke="#cc4b4b"/><circle cx="199.3" cy="244.8" r="1.75" stroke="#cc4b4b"/><circle cx="219.7" cy="199.2" r="1.75" stroke="#6c40aa"/><circle cx="224.0" cy="196.5" r="1.75" stroke="#4c4cd4"/><circle cx="225.6" cy="200.8" r="1.75" stroke="#6c40aa"/><circle cx="219.2" cy="203.4" r="1.75" stroke="#4c4cd4"/><circle cx="222.4" cy="204.0" r="1.75" stroke="#6c40aa"/><circle cx="230.3" cy="202.9" r="1.75" stroke="#74355e"/><circle cx="218.7" cy="206.6" r="1.75" stroke="#6c40aa"/><circle cx="222.4" cy="207.2" r="1.75" stroke="#6c40aa"/><circle cx="226.1" cy="207.7" r="1.75" stroke="#6c40aa"/><circle cx="230.9" cy="207.7" r="1.75" stroke="#6c40aa"/><circle cx="216.5" cy="210.9" r="1.75" stroke="#6c40aa"/><circle cx="228.2" cy="211.9" r="1.75" stroke="#4c4cd4"/><circle cx="231.9" cy="210.9" r="1.75" stroke="#4c4cd4"/><circle cx="236.2" cy="210.9" r="1.75" stroke="#9575c1"/><circle cx="231.9" cy="215.1" r="1.75" stroke="#825cb6"/><circle cx="223.4" cy="215.1" r="1.75" stroke="#9575c1"/><circle cx="227.2" cy="219.9" r="1.75" stroke="#9575c1"/><circle cx="236.2" cy="222.6" r="1.75" stroke="#7e7ee0"/><circle cx="237.3" cy="224.7" r="1.75" stroke="#a0658d"/><circle cx="218.1" cy="226.3" r="1.75" stroke="#825cb6"/><circle cx="230.9" cy="232.1" r="1.75" stroke="#825cb6"/><circle cx="238.8" cy="232.1" r="1.75" stroke="#825cb6"/><circle cx="246.3" cy="232.1" r="1.75" stroke="#9575c1"/><circle cx="222.9" cy="235.9" r="1.75" stroke="#8f4979"/><circle cx="228.8" cy="236.9" r="1.75" stroke="#6c40aa"/><circle cx="234.6" cy="235.9" r="1.75" stroke="#4c4cd4"/><circle cx="243.1" cy="235.9" r="1.75" stroke="#c42c2c"/><circle cx="239.9" cy="201.3" r="1.75" stroke="#9575c1"/><circle cx="256.9" cy="200.8" r="1.75" stroke="#8f4979"/><circle cx="260.6" cy="197.6" r="1.75" stroke="#8f4979"/><circle cx="258.0" cy="202.4" r="1.75" stroke="#8f4979"/><circle cx="261.7" cy="204.5" r="1.75" stroke="#9575c1"/><circle cx="255.9" cy="211.9" r="1.75" stroke="#825cb6"/><circle cx="252.7" cy="215.7" r="1.75" stroke="#825cb6"/><circle cx="258.0" cy="214.1" r="1.75" stroke="#4c4cd4"/><circle cx="261.2" cy="211.9" r="1.75" stroke="#6c40aa"/><circle cx="260.1" cy="216.7" r="1.75" stroke="#825cb6"/><circle cx="266.0" cy="215.1" r="1.75" stroke="#6c40aa"/><circle cx="268.1" cy="213.0" r="1.75" stroke="#6c40aa"/><circle cx="268.1" cy="217.3" r="1.75" stroke="#8f4979"/><circle cx="268.1" cy="206.6" r="1.75" stroke="#9575c1"/><circle cx="265.4" cy="226.8" r="1.75" stroke="#7e7ee0"/><circle cx="264.4" cy="228.9" r="1.75" stroke="#9575c1"/><circle cx="282.6" cy="195.9" r="1.75" stroke="#825cb6"/><circle cx="282.6" cy="198.6" r="1.75" stroke="#cc4b4b"/><circle cx="287.4" cy="199.1" r="1.75" stroke="#4c4cd4"/><circle cx="284.2" cy="201.8" r="1.75" stroke="#c42c2c"/><circle cx="287.4" cy="202.8" r="1.75" stroke="#6666da"/><circle cx="272.5" cy="202.3" r="1.75" stroke="#d46767"/><circle cx="280.5" cy="204.4" r="1.75" stroke="#cc4b4b"/><circle cx="285.3" cy="207.1" r="1.75" stroke="#7c2a62"/><circle cx="283.7" cy="210.3" r="1.75" stroke="#6666da"/><circle cx="282.1" cy="214.0" r="1.75" stroke="#825cb6"/><circle cx="296.9" cy="212.9" r="1.75" stroke="#9575c1"/><circle cx="294.8" cy="215.1" r="1.75" stroke="#825cb6"/><circle cx="291.1" cy="216.7" r="1.75" stroke="#825cb6"/><circle cx="286.3" cy="217.2" r="1.75" stroke="#cc4b4b"/><circle cx="268.3" cy="208.7" r="1.75" stroke="#825cb6"/><circle cx="270.4" cy="215.6" r="1.75" stroke="#6c40aa"/><circle cx="274.6" cy="216.7" r="1.75" stroke="#825cb6"/><circle cx="273.6" cy="219.9" r="1.75" stroke="#825cb6"/><circle cx="277.8" cy="219.9" r="1.75" stroke="#825cb6"/><circle cx="282.1" cy="221.4" r="1.75" stroke="#825cb6"/><circle cx="229.2" cy="238.7" r="1.75" stroke="#825cb6"/><circle cx="231.8" cy="240.8" r="1.75" stroke="#6c40aa"/><circle cx="236.6" cy="241.8" r="1.75" stroke="#825cb6"/><circle cx="242.5" cy="238.1" r="1.75" stroke="#825cb6"/><circle cx="245.7" cy="239.7" r="1.75" stroke="#825cb6"/><circle cx="234.0" cy="245.0" r="1.75" stroke="#6666da"/><circle cx="250.4" cy="242.9" r="1.75" stroke="#cc4b4b"/><circle cx="246.7" cy="246.6" r="1.75" stroke="#7c2a62"/><circle cx="249.4" cy="247.2" r="1.75" stroke="#cc4b4b"/><circle cx="250.4" cy="249.3" r="1.75" stroke="#8f4979"/><circle cx="231.8" cy="249.8" r="1.75" stroke="#825cb6"/><circle cx="242.5" cy="250.3" r="1.75" stroke="#6666da"/><circle cx="230.8" cy="253.0" r="1.75" stroke="#8f4979"/><circle cx="233.4" cy="254.6" r="1.75" stroke="#825cb6"/><circle cx="238.8" cy="251.9" r="1.75" stroke="#cc4b4b"/><circle cx="242.5" cy="253.5" r="1.75" stroke="#825cb6"/><circle cx="245.7" cy="256.2" r="1.75" stroke="#4c4cd4"/><circle cx="248.8" cy="256.7" r="1.75" stroke="#4c4cd4"/><circle cx="251.0" cy="255.1" r="1.75" stroke="#4c4cd4"/><circle cx="238.2" cy="258.3" r="1.75" stroke="#a0658d"/><circle cx="240.9" cy="259.4" r="1.75" stroke="#6c40aa"/><circle cx="245.7" cy="259.9" r="1.75" stroke="#c42c2c"/><circle cx="247.3" cy="261.0" r="1.75" stroke="#8f4979"/><circle cx="254.7" cy="255.1" r="1.75" stroke="#c42c2c"/><circle cx="254.2" cy="257.8" r="1.75" stroke="#c42c2c"/><circle cx="256.8" cy="255.1" r="1.75" stroke="#c42c2c"/><circle cx="258.4" cy="256.2" r="1.75" stroke="#6c40aa"/><circle cx="260.5" cy="253.0" r="1.75" stroke="#4c4cd4"/><circle cx="259.5" cy="257.8" r="1.75" stroke="#7c2a62"/><circle cx="255.8" cy="254.1" r="1.75" stroke="#4c4cd4"/><circle cx="228.1" cy="260.4" r="1.75" stroke="#a0658d"/><circle cx="232.4" cy="263.1" r="1.75" stroke="#6666da"/><circle cx="236.1" cy="266.8" r="1.75" stroke="#8f4979"/><circle cx="239.8" cy="264.7" r="1.75" stroke="#6666da"/><circle cx="254.7" cy="263.1" r="1.75" stroke="#cc4b4b"/><circle cx="257.9" cy="266.3" r="1.75" stroke="#4c4cd4"/><circle cx="260.5" cy="263.6" r="1.75" stroke="#c42c2c"/><circle cx="261.6" cy="264.7" r="1.75" stroke="#6666da"/><circle cx="231.8" cy="272.7" r="1.75" stroke="#7e7ee0"/><circle cx="245.7" cy="270.0" r="1.75" stroke="#7e7ee0"/><circle cx="255.8" cy="270.5" r="1.75" stroke="#825cb6"/><circle cx="262.1" cy="272.7" r="1.75" stroke="#c42c2c"/><circle cx="263.7" cy="272.1" r="1.75" stroke="#cc4b4b"/><circle cx="265.3" cy="272.7" r="1.75" stroke="#cc4b4b"/><circle cx="267.4" cy="273.2" r="1.75" stroke="#6666da"/><circle cx="257.3" cy="274.8" r="1.75" stroke="#6666da"/><circle cx="244.6" cy="275.9" r="1.75" stroke="#6666da"/><circle cx="270.1" cy="264.7" r="1.75" stroke="#7e7ee0"/><circle cx="274.4" cy="245.0" r="1.75" stroke="#6666da"/><circle cx="276.5" cy="238.1" r="1.75" stroke="#6c40aa"/><circle cx="278.1" cy="242.4" r="1.75" stroke="#4c4cd4"/><circle cx="276.5" cy="255.1" r="1.75" stroke="#7e7ee0"/><circle cx="278.6" cy="257.3" r="1.75" stroke="#7e7ee0"/><circle cx="273.8" cy="273.7" r="1.75" stroke="#6666da"/><circle cx="276.0" cy="272.7" r="1.75" stroke="#6666da"/><circle cx="274.4" cy="276.9" r="1.75" stroke="#cc4b4b"/><circle cx="141.3" cy="274.0" r="1.75" stroke="#7e7ee0"/><circle cx="158.3" cy="255.7" r="1.75" stroke="#cc4b4b"/><circle cx="154.1" cy="255.7" r="1.75" stroke="#6666da"/><circle cx="163.8" cy="251.5" r="1.75" stroke="#d46767"/><circle cx="114.6" cy="292.8" r="1.75" stroke="#d46767"/><circle cx="129.2" cy="291.9" r="1.75" stroke="#d46767"/><circle cx="166.5" cy="242.4" r="1.75" stroke="#d46767"/><circle cx="165.3" cy="251.5" r="1.75" stroke="#d46767"/><circle cx="171.4" cy="247.3" r="1.75" stroke="#d46767"/><circle cx="178.0" cy="248.5" r="1.75" stroke="#cc4b4b"/><circle cx="182.3" cy="249.7" r="1.75" stroke="#c42c2c"/><circle cx="186.6" cy="247.9" r="1.75" stroke="#7c2a62"/><circle cx="187.8" cy="246.7" r="1.75" stroke="#825cb6"/><circle cx="192.0" cy="249.1" r="1.75" stroke="#6c40aa"/><circle cx="196.9" cy="250.9" r="1.75" stroke="#825cb6"/><circle cx="201.1" cy="249.7" r="1.75" stroke="#825cb6"/><circle cx="201.7" cy="252.8" r="1.75" stroke="#825cb6"/><circle cx="211.5" cy="249.1" r="1.75" stroke="#9575c1"/><circle cx="206.0" cy="255.2" r="1.75" stroke="#825cb6"/><circle cx="210.2" cy="255.2" r="1.75" stroke="#825cb6"/><circle cx="214.5" cy="253.4" r="1.75" stroke="#825cb6"/><circle cx="221.2" cy="250.3" r="1.75" stroke="#d46767"/><circle cx="169.5" cy="257.6" r="1.75" stroke="#cc4b4b"/><circle cx="173.8" cy="255.2" r="1.75" stroke="#8f4979"/><circle cx="176.2" cy="252.8" r="1.75" stroke="#6666da"/><circle cx="170.8" cy="259.4" r="1.75" stroke="#6666da"/><circle cx="179.9" cy="258.8" r="1.75" stroke="#6666da"/><circle cx="182.9" cy="255.2" r="1.75" stroke="#4c4cd4"/><circle cx="185.3" cy="255.8" r="1.75" stroke="#7c2a62"/><circle cx="187.8" cy="254.0" r="1.75" stroke="#6666da"/><circle cx="183.5" cy="260.7" r="1.75" stroke="#7c2a62"/><circle cx="185.9" cy="261.3" r="1.75" stroke="#8f4979"/><circle cx="185.9" cy="265.5" r="1.75" stroke="#6666da"/><circle cx="192.0" cy="261.9" r="1.75" stroke="#7e7ee0"/><circle cx="192.6" cy="265.5" r="1.75" stroke="#6666da"/><circle cx="192.0" cy="267.9" r="1.75" stroke="#6666da"/><circle cx="197.5" cy="269.8" r="1.75" stroke="#74355e"/><circle cx="196.3" cy="270.1" r="1.75" stroke="#74355e"/><circle cx="199.3" cy="262.5" r="1.75" stroke="#a0658d"/><circle cx="201.1" cy="259.4" r="1.75" stroke="#a0658d"/><circle cx="169.5" cy="267.3" r="1.75" stroke="#7e7ee0"/><circle cx="176.2" cy="268.6" r="1.75" stroke="#7e7ee0"/><circle cx="175.6" cy="271.6" r="1.75" stroke="#a0658d"/><circle cx="185.9" cy="272.8" r="1.75" stroke="#7e7ee0"/><circle cx="190.2" cy="274.6" r="1.75" stroke="#a0658d"/><circle cx="204.8" cy="269.2" r="1.75" stroke="#9575c1"/><circle cx="207.8" cy="269.2" r="1.75" stroke="#8f4979"/><circle cx="210.2" cy="272.2" r="1.75" stroke="#9575c1"/><circle cx="216.9" cy="266.1" r="1.75" stroke="#a0658d"/><circle cx="215.7" cy="269.8" r="1.75" stroke="#cc4b4b"/><circle cx="219.4" cy="272.2" r="1.75" stroke="#a0658d"/><circle cx="197.5" cy="283.1" r="1.75" stroke="#7e7ee0"/><circle cx="204.2" cy="283.1" r="1.75" stroke="#825cb6"/><circle cx="209.0" cy="282.5" r="1.75" stroke="#6666da"/><circle cx="211.5" cy="285.0" r="1.75" stroke="#6666da"/><circle cx="206.6" cy="287.4" r="1.75" stroke="#6666da"/><circle cx="226.3" cy="277.6" r="1.75" stroke="#a0658d"/><circle cx="225.1" cy="283.1" r="1.75" stroke="#cc4b4b"/><circle cx="229.4" cy="285.9" r="1.75" stroke="#9575c1"/><circle cx="232.0" cy="291.6" r="1.75" stroke="#9575c1"/><circle cx="245.2" cy="278.9" r="1.75" stroke="#6666da"/><circle cx="242.1" cy="281.3" r="1.75" stroke="#4c4cd4"/><circle cx="243.9" cy="283.1" r="1.75" stroke="#6c40aa"/><circle cx="241.5" cy="286.4" r="1.75" stroke="#6666da"/><circle cx="247.0" cy="287.6" r="1.75" stroke="#825cb6"/><circle cx="252.5" cy="287.6" r="1.75" stroke="#6666da"/><circle cx="254.9" cy="285.5" r="1.75" stroke="#a0658d"/><circle cx="243.7" cy="294.9" r="1.75" stroke="#9575c1"/><circle cx="248.6" cy="299.3" r="1.75" stroke="#9575c1"/><circle cx="261.2" cy="297.7" r="1.75" stroke="#9575c1"/><circle cx="267.6" cy="290.8" r="1.75" stroke="#7e7ee0"/><circle cx="265.2" cy="305.0" r="1.75" stroke="#d46767"/><circle cx="227.2" cy="307.4" r="1.75" stroke="#d46767"/><circle cx="216.6" cy="308.6" r="1.75" stroke="#9575c1"/><circle cx="273.7" cy="286.2" r="1.75" stroke="#895476"/><circle cx="278.0" cy="295.6" r="1.75" stroke="#7e7ee0"/><circle cx="287.6" cy="225.1" r="1.75" stroke="#7e7ee0"/><circle cx="292.5" cy="223.9" r="1.75" stroke="#9575c1"/><circle cx="274.9" cy="227.5" r="1.75" stroke="#9575c1"/><circle cx="277.3" cy="228.8" r="1.75" stroke="#6666da"/><circle cx="280.3" cy="232.4" r="1.75" stroke="#cc4b4b"/><circle cx="284.0" cy="234.2" r="1.75" stroke="#7e7ee0"/><circle cx="293.7" cy="231.2" r="1.75" stroke="#825cb6"/><circle cx="296.7" cy="231.8" r="1.75" stroke="#8f4979"/><circle cx="297.9" cy="228.8" r="1.75" stroke="#825cb6"/><circle cx="302.2" cy="226.3" r="1.75" stroke="#9575c1"/><circle cx="291.3" cy="234.8" r="1.75" stroke="#a0658d"/><circle cx="296.1" cy="238.5" r="1.75" stroke="#a0658d"/><circle cx="275.5" cy="237.3" r="1.75" stroke="#7c2a62"/><circle cx="277.9" cy="239.1" r="1.75" stroke="#7c2a62"/><circle cx="276.7" cy="242.1" r="1.75" stroke="#6c40aa"/><circle cx="287.0" cy="240.9" r="1.75" stroke="#8f4979"/><circle cx="285.8" cy="242.7" r="1.75" stroke="#825cb6"/><circle cx="291.3" cy="242.1" r="1.75" stroke="#6666da"/><circle cx="295.5" cy="243.9" r="1.75" stroke="#8f4979"/><circle cx="278.5" cy="245.8" r="1.75" stroke="#825cb6"/><circle cx="304.6" cy="234.8" r="1.75" stroke="#9575c1"/><circle cx="305.2" cy="239.1" r="1.75" stroke="#d46767"/><circle cx="302.2" cy="245.2" r="1.75" stroke="#74355e"/><circle cx="305.2" cy="245.8" r="1.75" stroke="#825cb6"/><circle cx="299.2" cy="248.2" r="1.75" stroke="#8f4979"/><circle cx="312.5" cy="246.4" r="1.75" stroke="#d46767"/><circle cx="321.0" cy="245.2" r="1.75" stroke="#d46767"/><circle cx="333.2" cy="243.3" r="1.75" stroke="#d46767"/><circle cx="308.9" cy="248.8" r="1.75" stroke="#4c4cd4"/><circle cx="287.0" cy="251.8" r="1.75" stroke="#a0658d"/><circle cx="291.9" cy="253.1" r="1.75" stroke="#a0658d"/><circle cx="307.7" cy="253.1" r="1.75" stroke="#825cb6"/><circle cx="311.3" cy="253.1" r="1.75" stroke="#4c4cd4"/><circle cx="310.1" cy="257.9" r="1.75" stroke="#4c4cd4"/><circle cx="313.1" cy="257.3" r="1.75" stroke="#6666da"/><circle cx="291.3" cy="259.7" r="1.75" stroke="#9575c1"/><circle cx="306.5" cy="259.7" r="1.75" stroke="#cc4b4b"/><circle cx="315.6" cy="261.6" r="1.75" stroke="#6666da"/><circle cx="319.8" cy="262.2" r="1.75" stroke="#6666da"/><circle cx="303.4" cy="262.8" r="1.75" stroke="#825cb6"/><circle cx="300.4" cy="265.9" r="1.75" stroke="#9575c1"/><circle cx="318.6" cy="263.5" r="1.75" stroke="#6666da"/><circle cx="324.1" cy="264.7" r="1.75" stroke="#6666da"/><circle cx="328.9" cy="265.3" r="1.75" stroke="#9575c1"/><circle cx="282.2" cy="278.0" r="1.75" stroke="#6666da"/><circle cx="287.0" cy="275.0" r="1.75" stroke="#6666da"/><circle cx="289.4" cy="277.4" r="1.75" stroke="#a0658d"/><circle cx="284.6" cy="281.1" r="1.75" stroke="#825cb6"/><circle cx="286.4" cy="285.3" r="1.75" stroke="#9575c1"/><circle cx="303.4" cy="276.8" r="1.75" stroke="#7e7ee0"/><circle cx="308.9" cy="278.9" r="1.75" stroke="#895476"/><circle cx="315.6" cy="269.5" r="1.75" stroke="#6666da"/><circle cx="315.6" cy="273.2" r="1.75" stroke="#6666da"/><circle cx="314.3" cy="276.2" r="1.75" stroke="#7e7ee0"/><circle cx="319.8" cy="272.0" r="1.75" stroke="#825cb6"/><circle cx="323.5" cy="273.8" r="1.75" stroke="#825cb6"/><circle cx="326.5" cy="273.8" r="1.75" stroke="#8f4979"/><circle cx="327.1" cy="278.0" r="1.75" stroke="#cc4b4b"/><circle cx="329.5" cy="278.7" r="1.75" stroke="#6666da"/><circle cx="319.2" cy="279.9" r="1.75" stroke="#cc4b4b"/><circle cx="319.8" cy="282.9" r="1.75" stroke="#c42c2c"/><circle cx="330.1" cy="285.3" r="1.75" stroke="#cc4b4b"/><circle cx="300.4" cy="282.3" r="1.75" stroke="#8f4979"/><circle cx="302.2" cy="283.5" r="1.75" stroke="#825cb6"/><circle cx="297.9" cy="286.6" r="1.75" stroke="#6666da"/><circle cx="304.0" cy="286.6" r="1.75" stroke="#6666da"/><circle cx="297.9" cy="290.8" r="1.75" stroke="#825cb6"/><circle cx="301.6" cy="292.6" r="1.75" stroke="#7e7ee0"/><circle cx="283.4" cy="303.0" r="1.75" stroke="#7e7ee0"/><circle cx="302.8" cy="301.7" r="1.75" stroke="#d46767"/><circle cx="342.8" cy="247.5" r="1.75" stroke="#d46767"/><circle cx="351.5" cy="250.6" r="1.75" stroke="#d46767"/><circle cx="361.5" cy="253.7" r="1.75" stroke="#d46767"/><circle cx="373.0" cy="259.2" r="1.75" stroke="#d46767"/><circle cx="377.0" cy="266.4" r="1.75" stroke="#d46767"/><circle cx="380.3" cy="271.9" r="1.75" stroke="#d46767"/><circle cx="383.9" cy="277.4" r="1.75" stroke="#d46767"/><circle cx="387.4" cy="283.4" r="1.75" stroke="#d46767"/><circle cx="390.7" cy="288.8" r="1.75" stroke="#d46767"/><circle cx="390.7" cy="294.9" r="1.75" stroke="#d46767"/><circle cx="401.6" cy="294.3" r="1.75" stroke="#cc4b4b"/><circle cx="403.4" cy="294.3" r="1.75" stroke="#cc4b4b"/><circle cx="405.2" cy="294.3" r="1.75" stroke="#cc4b4b"/><circle cx="379.2" cy="295.2" r="1.75" stroke="#d46767"/><circle cx="341.5" cy="298.0" r="1.75" stroke="#d46767"/><circle cx="395.6" cy="299.3" r="1.75" stroke="#d46767"/><circle cx="397.9" cy="303.0" r="1.75" stroke="#d46767"/><circle cx="343.3" cy="341.7" r="1.75" stroke="#9575c1"/><circle cx="365.7" cy="342.5" r="1.75" stroke="#d46767"/><circle cx="375.5" cy="338.1" r="1.75" stroke="#a0658d"/><circle cx="379.2" cy="343.0" r="1.75" stroke="#d46767"/><circle cx="382.1" cy="341.7" r="1.75" stroke="#d46767"/><circle cx="399.8" cy="341.2" r="1.75" stroke="#a0658d"/><circle cx="144.9" cy="308.7" r="1.75" stroke="#8f4979"/><circle cx="146.9" cy="309.0" r="1.75" stroke="#8f4979"/><circle cx="148.9" cy="309.3" r="1.75" stroke="#7c2a62"/><circle cx="150.9" cy="309.6" r="1.75" stroke="#7c2a62"/><circle cx="152.9" cy="309.9" r="1.75" stroke="#7c2a62"/><circle cx="154.9" cy="310.2" r="1.75" stroke="#c42c2c"/><circle cx="156.9" cy="310.5" r="1.75" stroke="#c42c2c"/><circle cx="158.9" cy="310.8" r="1.75" stroke="#cc4b4b"/><circle cx="160.4" cy="311.0" r="1.75" stroke="#cc4b4b"/><circle cx="189.0" cy="295.5" r="1.75" stroke="#7e7ee0"/><circle cx="193.2" cy="300.0" r="1.75" stroke="#7e7ee0"/><circle cx="201.0" cy="291.5" r="1.75" stroke="#7e7ee0"/><circle cx="189.0" cy="310.0" r="1.75" stroke="#d46767"/><circle cx="244.5" cy="342.8" r="1.75" stroke="#9575c1"/><circle cx="268.9" cy="342.4" r="1.75" stroke="#a0658d"/><circle cx="277.7" cy="338.0" r="1.75" stroke="#7e7ee0"/><circle cx="277.7" cy="342.8" r="1.75" stroke="#cc4b4b"/><circle cx="281.6" cy="342.8" r="1.75" stroke="#cc4b4b"/><circle cx="284.5" cy="341.9" r="1.75" stroke="#7e7ee0"/><circle cx="323.6" cy="342.8" r="1.75" stroke="#d46767"/><circle cx="246.5" cy="99.5" r="1.75" stroke="#5c1242"/><circle cx="249.0" cy="101.5" r="1.75" stroke="#c42c2c"/><circle cx="251.5" cy="103.0" r="1.75" stroke="#5c1242"/><circle cx="245.0" cy="104.0" r="1.75" stroke="#c42c2c"/><circle cx="247.5" cy="106.0" r="1.75" stroke="#5c1242"/><circle cx="250.0" cy="107.5" r="1.75" stroke="#c42c2c"/><circle cx="252.5" cy="109.0" r="1.75" stroke="#7c2a62"/><circle cx="244.5" cy="109.5" r="1.75" stroke="#c42c2c"/><circle cx="247.0" cy="112.0" r="1.75" stroke="#5c1242"/><circle cx="249.5" cy="113.5" r="1.75" stroke="#c42c2c"/><circle cx="252.0" cy="112.5" r="1.75" stroke="#c42c2c"/><circle cx="255.5" cy="112.8" r="1.75" stroke="#c42c2c"/><circle cx="243.5" cy="113.0" r="1.75" stroke="#c42c2c"/><circle cx="248.5" cy="103.8" r="1.75" stroke="#c42c2c"/><circle cx="253.5" cy="106.0" r="1.75" stroke="#5c1242"/><circle cx="318.5" cy="285.8" r="1.75" stroke="#7c2a62"/><circle cx="320.2" cy="286.6" r="1.75" stroke="#7c2a62"/><circle cx="321.8" cy="287.4" r="1.75" stroke="#7c2a62"/><circle cx="323.5" cy="288.2" r="1.75" stroke="#7c2a62"/><circle cx="325.2" cy="289.0" r="1.75" stroke="#7c2a62"/><circle cx="326.9" cy="289.8" r="1.75" stroke="#7c2a62"/><circle cx="328.5" cy="290.6" r="1.75" stroke="#7c2a62"/></g><g fill="#fff" fill-opacity="0.8"><circle cx="83.3" cy="236.6" r="4.5"/><circle cx="81.1" cy="262.2" r="4.5"/><circle cx="171.4" cy="240.8" r="4.5"/><circle cx="211.5" cy="219.3" r="4.5"/><circle cx="291.6" cy="208.2" r="4.5"/><circle cx="148.2" cy="44.7" r="4.5"/><circle cx="371.5" cy="254.2" r="4.5"/><circle cx="395.6" cy="294.3" r="4.5"/><circle cx="301.1" cy="342.4" r="4.5"/></g><g fill="#f81c08" stroke="#501010" stroke-width="0.8"><circle cx="83.3" cy="236.6" r="3.4"/><circle cx="81.1" cy="262.2" r="3.4"/><circle cx="171.4" cy="240.8" r="3.4"/><circle cx="211.5" cy="219.3" r="3.4"/><circle cx="291.6" cy="208.2" r="3.4"/><circle cx="148.2" cy="44.7" r="3.4"/><circle cx="371.5" cy="254.2" r="3.4"/><circle cx="395.6" cy="294.3" r="3.4"/><circle cx="301.1" cy="342.4" r="3.4"/></g>
<polyline points="226.3,24.7 228.9,100 230.5,150 231.7,200 232.2,214.6 232.9,231.6 234.6,246.2 237.8,258.3 242.7,269.3 248.7,277.8 256,284.6 263.3,288 269.4,289.1" fill="none" stroke="#000" stroke-width="1.7" stroke-dasharray="4.3 4.8" stroke-dashoffset="6.6"/>
<polyline points="310.5,24.7 309.4,85 307.8,120 305.8,200 305.1,209.7 304.1,224.3 302.7,238.9 300.3,251 296.1,262 290,272.9 282.8,281.4 275.5,287.3 269.4,289.1" fill="none" stroke="#000" stroke-width="1.7" stroke-dasharray="4.3 4.7" stroke-dashoffset="1.1"/>
<rect x="42.1" y="24.7" width="453.7" height="327.40000000000003" fill="none" stroke="#222" stroke-width="1.55"/>
<path d="M48.70,352.1v-3.0M48.70,24.7v3.0M55.80,352.1v-6.3M55.80,24.7v6.3M62.90,352.1v-3.0M62.90,24.7v3.0M70.00,352.1v-3.0M70.00,24.7v3.0M77.10,352.1v-3.0M77.10,24.7v3.0M84.20,352.1v-3.0M84.20,24.7v3.0M91.30,352.1v-3.0M91.30,24.7v3.0M98.40,352.1v-3.0M98.40,24.7v3.0M105.50,352.1v-3.0M105.50,24.7v3.0M112.60,352.1v-3.0M112.60,24.7v3.0M119.70,352.1v-3.0M119.70,24.7v3.0M126.80,352.1v-6.3M126.80,24.7v6.3M133.90,352.1v-3.0M133.90,24.7v3.0M141.00,352.1v-3.0M141.00,24.7v3.0M148.10,352.1v-3.0M148.10,24.7v3.0M155.20,352.1v-3.0M155.20,24.7v3.0M162.30,352.1v-3.0M162.30,24.7v3.0M169.40,352.1v-3.0M169.40,24.7v3.0M176.50,352.1v-3.0M176.50,24.7v3.0M183.60,352.1v-3.0M183.60,24.7v3.0M190.70,352.1v-3.0M190.70,24.7v3.0M197.80,352.1v-6.3M197.80,24.7v6.3M204.90,352.1v-3.0M204.90,24.7v3.0M212.00,352.1v-3.0M212.00,24.7v3.0M219.10,352.1v-3.0M219.10,24.7v3.0M226.20,352.1v-3.0M226.20,24.7v3.0M233.30,352.1v-3.0M233.30,24.7v3.0M240.40,352.1v-3.0M240.40,24.7v3.0M247.50,352.1v-3.0M247.50,24.7v3.0M254.60,352.1v-3.0M254.60,24.7v3.0M261.70,352.1v-3.0M261.70,24.7v3.0M268.80,352.1v-6.3M268.80,24.7v6.3M275.90,352.1v-3.0M275.90,24.7v3.0M283.00,352.1v-3.0M283.00,24.7v3.0M290.10,352.1v-3.0M290.10,24.7v3.0M297.20,352.1v-3.0M297.20,24.7v3.0M304.30,352.1v-3.0M304.30,24.7v3.0M311.40,352.1v-3.0M311.40,24.7v3.0M318.50,352.1v-3.0M318.50,24.7v3.0M325.60,352.1v-3.0M325.60,24.7v3.0M332.70,352.1v-3.0M332.70,24.7v3.0M339.80,352.1v-6.3M339.80,24.7v6.3M346.90,352.1v-3.0M346.90,24.7v3.0M354.00,352.1v-3.0M354.00,24.7v3.0M361.10,352.1v-3.0M361.10,24.7v3.0M368.20,352.1v-3.0M368.20,24.7v3.0M375.30,352.1v-3.0M375.30,24.7v3.0M382.40,352.1v-3.0M382.40,24.7v3.0M389.50,352.1v-3.0M389.50,24.7v3.0M396.60,352.1v-3.0M396.60,24.7v3.0M403.70,352.1v-3.0M403.70,24.7v3.0M410.80,352.1v-6.3M410.80,24.7v6.3M417.90,352.1v-3.0M417.90,24.7v3.0M425.00,352.1v-3.0M425.00,24.7v3.0M432.10,352.1v-3.0M432.10,24.7v3.0M439.20,352.1v-3.0M439.20,24.7v3.0M446.30,352.1v-3.0M446.30,24.7v3.0M453.40,352.1v-3.0M453.40,24.7v3.0M460.50,352.1v-3.0M460.50,24.7v3.0M467.60,352.1v-3.0M467.60,24.7v3.0M474.70,352.1v-3.0M474.70,24.7v3.0M481.80,352.1v-6.3M481.80,24.7v6.3M488.90,352.1v-3.0M488.90,24.7v3.0M42.1,340.30h8.6M495.8,340.30h-8.6M42.1,325.26h4.6M495.8,325.26h-4.6M42.1,310.22h4.6M495.8,310.22h-4.6M42.1,295.18h4.6M495.8,295.18h-4.6M42.1,280.14h4.6M495.8,280.14h-4.6M42.1,265.10h8.6M495.8,265.10h-8.6M42.1,250.06h4.6M495.8,250.06h-4.6M42.1,235.02h4.6M495.8,235.02h-4.6M42.1,219.98h4.6M495.8,219.98h-4.6M42.1,204.94h4.6M495.8,204.94h-4.6M42.1,189.90h8.6M495.8,189.90h-8.6M42.1,174.86h4.6M495.8,174.86h-4.6M42.1,159.82h4.6M495.8,159.82h-4.6M42.1,144.78h4.6M495.8,144.78h-4.6M42.1,129.74h4.6M495.8,129.74h-4.6M42.1,114.70h8.6M495.8,114.70h-8.6M42.1,99.66h4.6M495.8,99.66h-4.6M42.1,84.62h4.6M495.8,84.62h-4.6M42.1,69.58h4.6M495.8,69.58h-4.6M42.1,54.54h4.6M495.8,54.54h-4.6M42.1,39.50h8.6M495.8,39.50h-8.6" stroke="#222" stroke-width="1.5" fill="none"/>
<text x="38.3" y="345.6" font-family="Liberation Sans, sans-serif" font-size="12.3" text-anchor="end" textLength="17.7" lengthAdjust="spacingAndGlyphs" fill="#111">0.0</text>
<text x="38.3" y="270.4" font-family="Liberation Sans, sans-serif" font-size="12.3" text-anchor="end" textLength="17.7" lengthAdjust="spacingAndGlyphs" fill="#111">0.5</text>
<text x="38.3" y="195.2" font-family="Liberation Sans, sans-serif" font-size="12.3" text-anchor="end" textLength="17.7" lengthAdjust="spacingAndGlyphs" fill="#111">1.0</text>
<text x="38.3" y="120.0" font-family="Liberation Sans, sans-serif" font-size="12.3" text-anchor="end" textLength="17.7" lengthAdjust="spacingAndGlyphs" fill="#111">1.5</text>
<text x="38.3" y="44.8" font-family="Liberation Sans, sans-serif" font-size="12.3" text-anchor="end" textLength="17.7" lengthAdjust="spacingAndGlyphs" fill="#111">2.0</text>
<text x="60.2" y="369.6" font-family="Liberation Sans, sans-serif" font-size="12.2" text-anchor="middle" fill="#111">3</text>
<line x1="48.5" y1="365.4" x2="55.1" y2="365.4" stroke="#111" stroke-width="1.05"/>
<text x="131.2" y="369.6" font-family="Liberation Sans, sans-serif" font-size="12.2" text-anchor="middle" fill="#111">2</text>
<line x1="119.5" y1="365.4" x2="126.1" y2="365.4" stroke="#111" stroke-width="1.05"/>
<text x="202.2" y="369.6" font-family="Liberation Sans, sans-serif" font-size="12.2" text-anchor="middle" fill="#111">1</text>
<line x1="190.5" y1="365.4" x2="197.1" y2="365.4" stroke="#111" stroke-width="1.05"/>
<text x="268.6" y="369.6" font-family="Liberation Sans, sans-serif" font-size="12.4" text-anchor="middle" fill="#111">0</text>
<text x="339.6" y="369.6" font-family="Liberation Sans, sans-serif" font-size="12.4" text-anchor="middle" fill="#111">1</text>
<text x="410.6" y="369.6" font-family="Liberation Sans, sans-serif" font-size="12.4" text-anchor="middle" fill="#111">2</text>
<text x="481.6" y="369.6" font-family="Liberation Sans, sans-serif" font-size="12.4" text-anchor="middle" fill="#111">3</text>
<text x="57.3" y="10.6" font-family="Liberation Sans, sans-serif" font-size="12.4" stroke="#111" stroke-width="0.2" textLength="422.2" lengthAdjust="spacingAndGlyphs" fill="#111">ECCD stabilization map of <tspan font-style="italic">m</tspan>,<tspan font-style="italic">n</tspan>=2,1 NTMs in the low-torque DIII-D ITER Baseline Scenario</text>
<text x="214.6" y="390.2" font-family="Liberation Sans, sans-serif" font-size="12.5" textLength="109" lengthAdjust="spacingAndGlyphs" fill="#111">(ρ<tspan font-size="7.8" dy="2.4">ECCD</tspan><tspan dy="-2.4">-ρ</tspan><tspan font-size="7.8" dy="2.4">q=2</tspan><tspan dy="-2.4">)/FWHM</tspan><tspan font-size="7.8" dy="2.4">ECCD</tspan></text>
<g transform="translate(9.8,209) rotate(-90)" font-family="Liberation Sans, sans-serif" fill="#2a2a2a"><text x="0" y="0" font-size="12">j</text><text x="3" y="3" font-size="8.3" textLength="11" lengthAdjust="spacingAndGlyphs">ECCD</text><text x="26.6" y="0" font-size="12">j</text><text x="29.2" y="3" font-size="8.3" textLength="7" lengthAdjust="spacingAndGlyphs">bs</text></g>
<line x1="12.6" y1="194.3" x2="2.0" y2="183.9" stroke="#2a2a2a" stroke-width="1"/>
<text x="258.4" y="53.4" font-family="Liberation Sans, sans-serif" font-size="12.5" font-weight="bold" textLength="40.8" lengthAdjust="spacingAndGlyphs" fill="#0b7a0b">STABLE</text>
<text transform="translate(317.3,180) rotate(-90)" font-family="Liberation Sans, sans-serif" font-size="9.3" font-style="italic" textLength="87.4" lengthAdjust="spacingAndGlyphs" fill="#111">theroetical expectation</text>
<circle cx="425.5" cy="47.2" r="4.6" fill="#fff" fill-opacity="0.8"/><circle cx="425.5" cy="47.2" r="3.5" fill="#f81c08" stroke="#501010" stroke-width="0.8"/>
<text x="432.7" y="51" font-family="Liberation Sans, sans-serif" font-size="12" textLength="44" lengthAdjust="spacingAndGlyphs" fill="#ff1414" stroke="#ff1414" stroke-width="0.15">2,1 onset</text>
<defs><linearGradient id="cb" x1="0" y1="1" x2="0" y2="0"><stop offset="0" stop-color="#ff0000"/><stop offset="0.2" stop-color="#d00000"/><stop offset="0.39" stop-color="#980008"/><stop offset="0.47" stop-color="#680028"/><stop offset="0.58" stop-color="#501058"/><stop offset="0.72" stop-color="#5010a8"/><stop offset="0.87" stop-color="#3018d8"/><stop offset="1" stop-color="#1818ff"/></linearGradient></defs>
<rect x="516.4" y="72.9" width="7.6" height="111.2" fill="url(#cb)" stroke="#222" stroke-width="0.8"/>
<line x1="516.8" y1="139.8" x2="523.6" y2="139.8" stroke="#f0a0a0" stroke-width="1"/>
<text x="511.8" y="184.6" font-family="Liberation Sans, sans-serif" font-size="9.6" text-anchor="end" fill="#222">0</text>
<text x="511.8" y="144.0" font-family="Liberation Sans, sans-serif" font-size="9.6" text-anchor="end" fill="#222">1</text>
<text x="511.8" y="99.6" font-family="Liberation Sans, sans-serif" font-size="9.6" text-anchor="end" fill="#222">2</text>
<text transform="translate(522.2,65.6) rotate(-90)" font-family="Liberation Sans, sans-serif" font-size="9.5" font-weight="bold" font-style="italic" textLength="40.4" lengthAdjust="spacingAndGlyphs" fill="#111">Δf<tspan font-size="6" dy="1.8">1,2</tspan><tspan dy="-1.8"> / Δf</tspan><tspan font-size="6" dy="1.8">CRIT</tspan></text>
<text x="501.3" y="206.8" font-family="Liberation Sans, sans-serif" font-size="8" textLength="29.5" lengthAdjust="spacingAndGlyphs" fill="#8c8c8c">Database:</text>
<text x="503.0" y="216.9" font-family="Liberation Sans, sans-serif" font-size="8" textLength="25.0" lengthAdjust="spacingAndGlyphs" fill="#8c8c8c">#169539</text>
<text x="503.0" y="227.7" font-family="Liberation Sans, sans-serif" font-size="8" textLength="25.0" lengthAdjust="spacingAndGlyphs" fill="#8c8c8c">#169540</text>
<text x="503.0" y="238.5" font-family="Liberation Sans, sans-serif" font-size="8" textLength="25.0" lengthAdjust="spacingAndGlyphs" fill="#8c8c8c">#169542</text>
<text x="503.0" y="249.3" font-family="Liberation Sans, sans-serif" font-size="8" textLength="25.0" lengthAdjust="spacingAndGlyphs" fill="#8c8c8c">#169544</text>
<text x="503.0" y="260.1" font-family="Liberation Sans, sans-serif" font-size="8" textLength="25.0" lengthAdjust="spacingAndGlyphs" fill="#8c8c8c">#169546</text>
<text x="503.0" y="270.9" font-family="Liberation Sans, sans-serif" font-size="8" textLength="25.0" lengthAdjust="spacingAndGlyphs" fill="#8c8c8c">#170561</text>
<text x="503.0" y="281.6" font-family="Liberation Sans, sans-serif" font-size="8" textLength="25.0" lengthAdjust="spacingAndGlyphs" fill="#8c8c8c">#170562</text>
<text x="503.0" y="292.4" font-family="Liberation Sans, sans-serif" font-size="8" textLength="25.0" lengthAdjust="spacingAndGlyphs" fill="#8c8c8c">#173643</text>
<text x="503.0" y="303.2" font-family="Liberation Sans, sans-serif" font-size="8" textLength="25.0" lengthAdjust="spacingAndGlyphs" fill="#8c8c8c">#190265</text>
<text x="503.0" y="314.0" font-family="Liberation Sans, sans-serif" font-size="8" textLength="25.0" lengthAdjust="spacingAndGlyphs" fill="#8c8c8c">#190268</text>
<text x="503.0" y="324.8" font-family="Liberation Sans, sans-serif" font-size="8" textLength="25.0" lengthAdjust="spacingAndGlyphs" fill="#8c8c8c">#190303</text>
<text x="503.0" y="335.6" font-family="Liberation Sans, sans-serif" font-size="8" textLength="25.0" lengthAdjust="spacingAndGlyphs" fill="#8c8c8c">#190334</text>
<text x="503.0" y="346.4" font-family="Liberation Sans, sans-serif" font-size="8" textLength="25.0" lengthAdjust="spacingAndGlyphs" fill="#8c8c8c">#190335</text>
</svg></body></html>
